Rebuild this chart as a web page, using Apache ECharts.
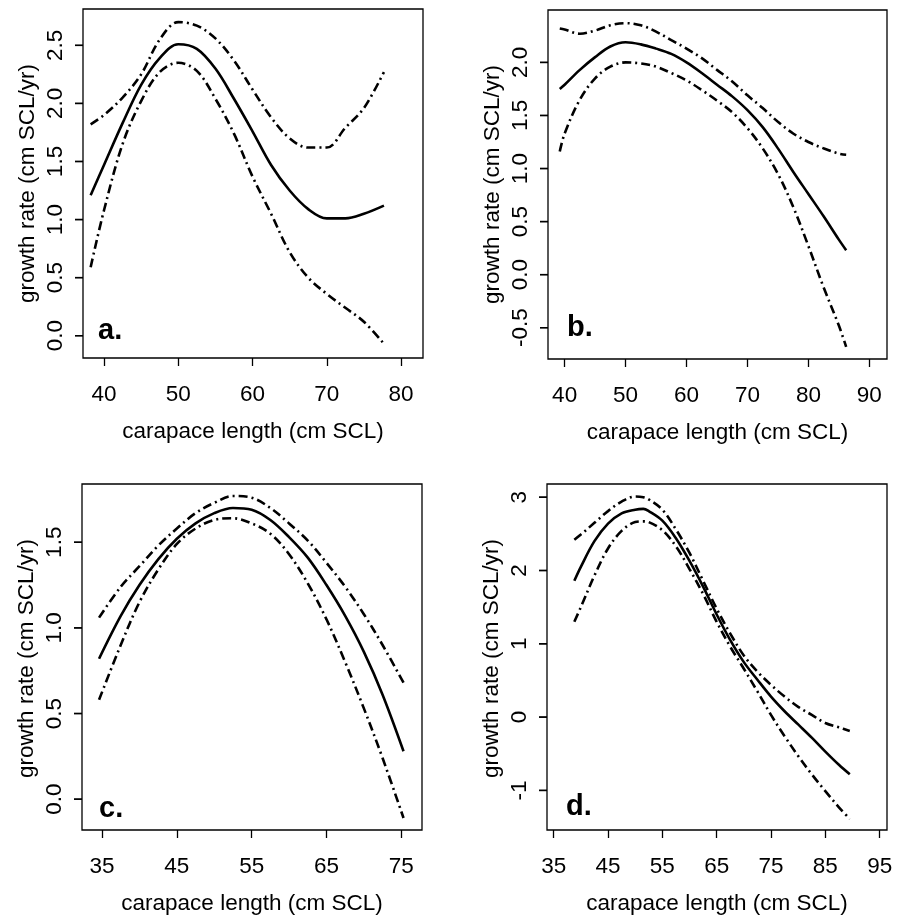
<!DOCTYPE html>
<html>
<head>
<meta charset="utf-8">
<script src="https://cdn.jsdelivr.net/npm/echarts@6/dist/echarts.min.js"></script>
<style>
html,body{margin:0;padding:0;background:#fff;}
#chart{width:901px;height:916px;}
</style>
</head>
<body>
<div id="chart"></div>
<script>
// ---- Panel a ----
const aX     = [38.2, 40, 42.5, 45, 47.5, 50, 52.5, 55, 57.5, 60, 62.5, 65, 67.5, 70, 72.5, 75, 77.7];
const aFit   = [1.21, 1.47, 1.83, 2.16, 2.39, 2.51, 2.47, 2.30, 2.04, 1.76, 1.47, 1.25, 1.09, 1.01, 1.01, 1.05, 1.12];
const aUpper = [1.82, 1.90, 2.05, 2.25, 2.55, 2.70, 2.67, 2.56, 2.37, 2.12, 1.88, 1.70, 1.62, 1.62, 1.79, 1.96, 2.27];
const aLower = [0.59, 1.08, 1.65, 2.02, 2.27, 2.35, 2.28, 2.04, 1.74, 1.37, 1.05, 0.72, 0.50, 0.36, 0.24, 0.12, -0.07];
const aXTicks = [40, 50, 60, 70, 80];
const aYTicks = [0, 0.5, 1.0, 1.5, 2.0, 2.5];

// ---- Panel b ----
const bX     = [39.2, 40, 42.5, 45, 47.5, 50, 52.5, 55, 57.5, 60, 62.5, 65, 67.5, 70, 72.5, 75, 77.5, 80, 82.5, 85, 86.2];
const bFit   = [1.75, 1.79, 1.93, 2.05, 2.15, 2.19, 2.17, 2.13, 2.08, 2.00, 1.90, 1.79, 1.68, 1.55, 1.39, 1.19, 0.97, 0.76, 0.55, 0.33, 0.23];
const bUpper = [2.32, 2.31, 2.27, 2.30, 2.35, 2.37, 2.35, 2.29, 2.21, 2.13, 2.04, 1.93, 1.82, 1.69, 1.57, 1.44, 1.33, 1.25, 1.19, 1.14, 1.13];
const bLower = [1.16, 1.33, 1.65, 1.85, 1.96, 2.00, 1.99, 1.96, 1.90, 1.83, 1.74, 1.64, 1.53, 1.38, 1.19, 0.95, 0.64, 0.27, -0.12, -0.48, -0.68];
const bXTicks = [40, 50, 60, 70, 80, 90];
const bYTicks = [-0.5, 0, 0.5, 1.0, 1.5, 2.0];

// ---- Panel c ----
const cX     = [34.6, 37.5, 40, 42.5, 45, 47.5, 50, 52.5, 55, 57.5, 60, 62.5, 65, 67.5, 70, 72.5, 75.3];
const cFit   = [0.82, 1.07, 1.25, 1.40, 1.52, 1.61, 1.67, 1.70, 1.69, 1.63, 1.53, 1.41, 1.25, 1.07, 0.86, 0.61, 0.28];
const cUpper = [1.06, 1.24, 1.36, 1.48, 1.58, 1.67, 1.73, 1.77, 1.76, 1.70, 1.61, 1.51, 1.38, 1.24, 1.08, 0.90, 0.68];
const cLower = [0.58, 0.90, 1.15, 1.34, 1.49, 1.58, 1.63, 1.64, 1.61, 1.55, 1.43, 1.26, 1.05, 0.80, 0.53, 0.24, -0.11];
const cXTicks = [35, 45, 55, 65, 75];
const cYTicks = [0, 0.5, 1.0, 1.5];

// ---- Panel d ----
const dX     = [38.8, 40, 42.5, 45, 47.5, 50, 51.5, 52.5, 55, 57.5, 60, 62.5, 65, 67.5, 70, 72.5, 75, 77.5, 80, 82.5, 85, 87.5, 89.5];
const dFit   = [1.86, 2.05, 2.40, 2.64, 2.78, 2.83, 2.84, 2.81, 2.68, 2.44, 2.13, 1.78, 1.40, 1.05, 0.75, 0.51, 0.28, 0.08, -0.10, -0.28, -0.47, -0.65, -0.78];
const dUpper = [2.42, 2.49, 2.65, 2.81, 2.94, 3.01, 3.00, 2.97, 2.83, 2.56, 2.24, 1.86, 1.48, 1.14, 0.84, 0.62, 0.44, 0.28, 0.14, 0.03, -0.08, -0.14, -0.19];
const dLower = [1.30, 1.50, 1.93, 2.30, 2.54, 2.66, 2.67, 2.66, 2.55, 2.33, 2.02, 1.68, 1.30, 0.96, 0.66, 0.35, 0.03, -0.26, -0.53, -0.78, -1.01, -1.23, -1.39];
const dXTicks = [35, 45, 55, 65, 75, 85, 95];
const dYTicks = [-1, 0, 1, 2, 3];

const panelLabels = ['a.', 'b.', 'c.', 'd.'];
const xTitle = 'carapace length (cm SCL)';
const yTitle = 'growth rate (cm SCL/yr)';

const FONT = '"Liberation Sans", Arial, Helvetica, sans-serif';
const FS = 22.5;
const TICK_LEN = 8;
const Y_LABEL_MARGIN = 16;
const Y_NAME_GAP = 44;

const panels = [
  {x: aX, fit: aFit, up: aUpper, lo: aLower, xt: aXTicks, yt: aYTicks, dec: 1,
   grid: {left: 83, top: 9, width: 340, height: 349}, xr: [37.17, 82.96], yr: [-0.192, 2.813]},
  {x: bX, fit: bFit, up: bUpper, lo: bLower, xt: bXTicks, yt: bYTicks, dec: 1,
   grid: {left: 548, top: 10, width: 339, height: 349}, xr: [37.27, 92.9], yr: [-0.795, 2.494]},
  {x: cX, fit: cFit, up: cUpper, lo: cLower, xt: cXTicks, yt: cYTicks, dec: 1,
   grid: {left: 82, top: 484, width: 340, height: 349}, xr: [32.32, 77.77], yr: [-0.18, 1.84]},
  {x: dX, fit: dFit, up: dUpper, lo: dLower, xt: dXTicks, yt: dYTicks, dec: 0,
   grid: {left: 547, top: 484, width: 340, height: 349}, xr: [33.77, 96.35], yr: [-1.54, 3.18]}
];
const labelPos = [[98, 333], [567, 330], [99, 811], [566, 809]];

const grids = [], xAxes = [], yAxes = [], series = [], graphics = [];
const dashPattern = [9, 4, 2, 4];

panels.forEach((p, i) => {
  grids.push(Object.assign({show: true, borderColor: '#000', borderWidth: 1.3, backgroundColor: 'transparent', containLabel: false}, p.grid));
  xAxes.push({
    type: 'value', gridIndex: i, min: p.xr[0], max: p.xr[1], position: 'bottom',
    axisLine: {show: false, onZero: false},
    axisTick: {show: true, length: TICK_LEN, customValues: p.xt, lineStyle: {color: '#000', width: 1.3}},
    axisLabel: {customValues: p.xt, color: '#000', fontSize: FS, fontFamily: FONT, margin: 25,
                formatter: v => String(Math.round(v))},
    splitLine: {show: false},
    name: xTitle, nameLocation: 'middle', nameGap: 62,
    nameTextStyle: {color: '#000', fontSize: FS, fontFamily: FONT}
  });
  yAxes.push({
    type: 'value', gridIndex: i, min: p.yr[0], max: p.yr[1], position: 'left',
    axisLine: {show: false, onZero: false},
    axisTick: {show: false},
    axisLabel: {show: false},
    splitLine: {show: false},
    name: ''
  });
  const mk = (arr, dashed, nm) => ({
    type: 'line', name: nm, xAxisIndex: i, yAxisIndex: i,
    data: p.x.map((xv, k) => [xv, arr[k]]),
    showSymbol: false, smooth: 0.35, silent: true, animation: false,
    lineStyle: {color: '#000', width: 2.6, type: dashed ? dashPattern : 'solid', cap: 'butt'}
  });
  series.push(mk(p.up, true, 'upper'), mk(p.fit, false, 'fit'), mk(p.lo, true, 'lower'));
  // y-axis ticks and rotated tick labels, positioned through the axis scale at the left edge
  const dec = p.dec;
  series.push({
    type: 'custom', name: 'yaxis', xAxisIndex: i, yAxisIndex: i, clip: false, silent: true, animation: false,
    z: 50,
    data: p.yt.map(v => [p.xr[0], v]),
    renderItem: (params, api) => {
      const v = api.value(1);
      const pt = api.coord([api.value(0), v]);
      return {type: 'group', children: [
        {type: 'rect', shape: {x: pt[0] - TICK_LEN, y: pt[1] - 0.7, width: TICK_LEN, height: 1.4},
         style: {fill: '#000'}},
        {type: 'text', x: pt[0] - Y_LABEL_MARGIN, y: pt[1], rotation: Math.PI / 2,
         style: {text: Number(v).toFixed(dec), fill: '#000', fontSize: FS, fontFamily: FONT,
                 align: 'center', verticalAlign: 'bottom'}}
      ]};
    }
  });
  graphics.push({
    id: 'lab' + i, type: 'text', left: labelPos[i][0], top: labelPos[i][1] - 17,
    style: {text: panelLabels[i], font: 'bold 29px ' + FONT, fill: '#000'}
  });
  graphics.push({
    id: 'ytitle' + i, type: 'text', x: p.grid.left - Y_NAME_GAP, y: p.grid.top + p.grid.height / 2, rotation: Math.PI / 2,
    style: {text: yTitle, fill: '#000', fontSize: FS, fontFamily: FONT, align: 'center', verticalAlign: 'bottom'}
  });
});

const chart = echarts.init(document.getElementById('chart'), null, {renderer: 'canvas'});
chart.setOption({
  animation: false,
  backgroundColor: '#fff',
  grid: grids, xAxis: xAxes, yAxis: yAxes, series: series, graphic: graphics
});

// extra y tick marks on a top layer, located through the library's own scale conversion
const tickGraphics = [];
panels.forEach((p, i) => {
  p.yt.forEach((v, k) => {
    const pt = chart.convertToPixel({gridIndex: i}, [p.xr[0], v]);
    if (!pt) return;
    tickGraphics.push({
      id: 'ytick' + i + '_' + k, type: 'rect', silent: true, z: 100, zlevel: 2,
      shape: {x: pt[0] - TICK_LEN, y: pt[1] - 0.7, width: TICK_LEN, height: 1.4},
      style: {fill: '#000'}
    });
  });
});
chart.setOption({graphic: tickGraphics});
</script>
</body>
</html>
